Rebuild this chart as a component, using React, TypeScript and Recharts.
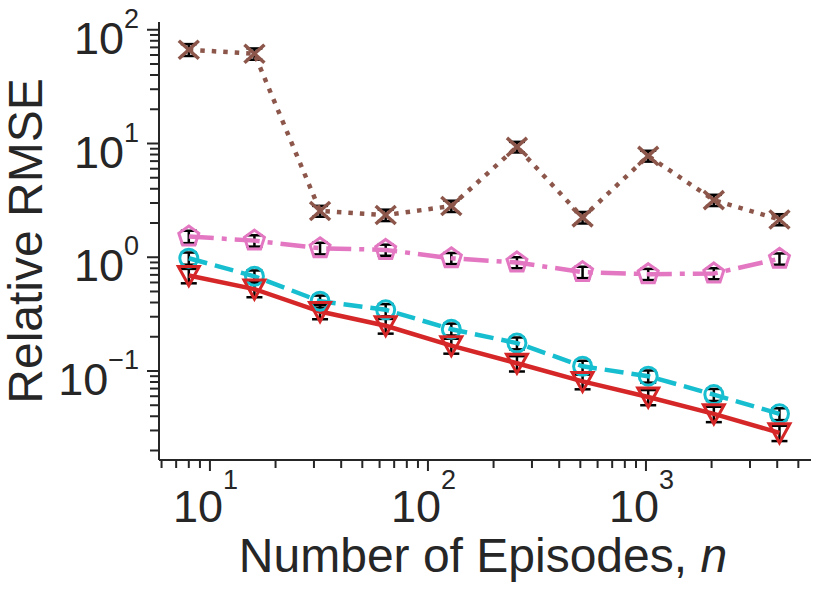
import { ComposedChart, ErrorBar, Label, Line, XAxis, YAxis } from "recharts";

const INK = "#262626";
const FONT = "'Liberation Sans', Arial, Helvetica, sans-serif";

// number of episodes
const episodes = [8, 16, 32, 64, 128, 256, 512, 1024, 2048, 4096];

// relative RMSE per estimator
const brown = [66.8, 61.5, 2.55, 2.35, 2.82, 9.34, 2.24, 7.78, 3.18, 2.15];
const brownErr = [8, 7, 0.28, 0.27, 0.32, 1.0, 0.26, 0.85, 0.36, 0.24];
const pink = [1.52, 1.4, 1.2, 1.16, 0.98, 0.9, 0.74, 0.71, 0.72, 0.97];
const pinkErr = [0.19, 0.16, 0.14, 0.13, 0.11, 0.1, 0.085, 0.08, 0.08, 0.11];
const cyan = [0.98, 0.68, 0.41, 0.345, 0.233, 0.176, 0.11, 0.09, 0.062, 0.042];
const cyanErr = [0.12, 0.085, 0.05, 0.042, 0.028, 0.021, 0.013, 0.011, 0.0075, 0.005];
const red = [0.69, 0.525, 0.333, 0.25, 0.167, 0.117, 0.081, 0.059, 0.042, 0.0286];
const redErr = [0.1, 0.08, 0.048, 0.037, 0.025, 0.018, 0.012, 0.009, 0.0065, 0.0044];

// tick positions
const xMajor = [10, 100, 1000];
const yMajor = [0.1, 1, 10, 100];
const steps = [2, 3, 4, 5, 6, 7, 8, 9];
const xMinor = [1, 10, 100, 1000]
  .flatMap((d) => steps.map((s) => s * d))
  .filter((v) => v > 5.84 && v < 5715);
const yMinor = [0.01, 0.1, 1, 10]
  .flatMap((d) => steps.map((s) => s * d))
  .filter((v) => v > 0.0165 && v < 117);
const xTicks = [...xMajor, ...xMinor].sort((a, b) => a - b);
const yTicks = [...yMajor, ...yMinor].sort((a, b) => a - b);

const rows = episodes.map((n, i) => ({
  n,
  brown: brown[i],
  brownErr: brownErr[i],
  pink: pink[i],
  pinkErr: pinkErr[i],
  cyan: cyan[i],
  cyanErr: cyanErr[i],
  red: red[i],
  redErr: redErr[i],
}));

function powerOf(v: number) {
  const e = Math.round(Math.log10(v));
  return { e, major: Math.abs(Math.log10(v) - e) < 1e-9 };
}

function expText(e: number) {
  return e < 0 ? `\u2212${-e}` : `${e}`;
}

function XTick(props: any) {
  const { x, y, payload } = props;
  const { e, major } = powerOf(payload.value);
  return (
    <g>
      <line x1={x} x2={x} y1={y} y2={y + (major ? 11 : 8)} stroke={INK} strokeWidth={2} />
      {major && (
        <text x={x - 37} y={y + 62} fontSize={45} fill={INK} fontFamily={FONT}>
          10
          <tspan dy={-33} fontSize={27}>
            {expText(e)}
          </tspan>
        </text>
      )}
    </g>
  );
}

function YTick(props: any) {
  const { x, y, payload } = props;
  const { e, major } = powerOf(payload.value);
  return (
    <g>
      <line x1={x - (major ? 12 : 9)} x2={x} y1={y} y2={y} stroke={INK} strokeWidth={2} />
      {major && (
        <text x={x - 20} y={y + 24} textAnchor="end" fontSize={45} fill={INK} fontFamily={FONT}>
          10
          <tspan dy={-26} fontSize={27}>
            {expText(e)}
          </tspan>
        </text>
      )}
    </g>
  );
}

function Marker({ cx, cy, kind, color }: { cx: number; cy: number; kind: string; color: string }) {
  const common = { fill: "none", stroke: color, strokeWidth: 3 };
  if (kind === "x") {
    return (
      <g stroke={color} strokeWidth={3.5}>
        <line x1={cx - 10} y1={cy - 9} x2={cx + 10} y2={cy + 9} />
        <line x1={cx - 10} y1={cy + 9} x2={cx + 10} y2={cy - 9} />
      </g>
    );
  }
  if (kind === "pentagon") {
    const pts = [0, 1, 2, 3, 4]
      .map((k) => {
        const a = ((-90 + 72 * k) * Math.PI) / 180;
        return `${cx + 10.5 * Math.cos(a)},${cy + 10.5 * Math.sin(a)}`;
      })
      .join(" ");
    return <polygon points={pts} {...common} />;
  }
  if (kind === "circle") {
    return <circle cx={cx} cy={cy} r={9} {...common} />;
  }
  return (
    <polygon
      points={`${cx - 10.5},${cy - 9} ${cx + 10.5},${cy - 9} ${cx},${cy + 10}`}
      {...common}
      strokeLinejoin="miter"
    />
  );
}

function dotFor(kind: string, color: string) {
  return (p: any) => (
    <g key={`${kind}-${p.index}`}>
      <Marker cx={p.cx} cy={p.cy} kind={kind} color={color} />
    </g>
  );
}

function XTitle() {
  return (
    <text x={483} y={572} textAnchor="middle" fontSize={48} fill={INK} fontFamily={FONT}>
      Number of Episodes, <tspan fontStyle="italic">n</tspan>
    </text>
  );
}

function YTitle() {
  return (
    <text
      x={42}
      y={241}
      transform="rotate(-90 42 241)"
      textAnchor="middle"
      fontSize={48}
      fill={INK}
      fontFamily={FONT}
    >
      Relative RMSE
    </text>
  );
}

const series = [
  { key: "brown", color: "#8c564b", dash: "4.5 7", kind: "x" },
  { key: "pink", color: "#e377c2", dash: "25 8 5 8", kind: "pentagon" },
  { key: "cyan", color: "#17becf", dash: "19 8", kind: "circle" },
  { key: "red", color: "#d62728", dash: undefined, kind: "triangle" },
];

export default function App() {
  return (
    <div style={{ width: 830, height: 590, background: "#fff" }}>
      <style>{"body{margin:0}"}</style>
      <ComposedChart
        width={830}
        height={590}
        data={rows}
        margin={{ top: 22, right: 19, bottom: 0, left: 0 }}
      >
        <XAxis
          type="number"
          dataKey="n"
          scale="log"
          domain={[5.84, 5715]}
          allowDataOverflow
          ticks={xTicks}
          interval={0}
          tick={XTick}
          tickLine={false}
          tickSize={0}
          tickMargin={0}
          axisLine={{ stroke: INK, strokeWidth: 2 }}
          height={130}
        >
          <Label content={XTitle} />
        </XAxis>
        <YAxis
          type="number"
          scale="log"
          domain={[0.0165, 117]}
          allowDataOverflow
          ticks={yTicks}
          interval={0}
          tick={YTick}
          tickLine={false}
          tickSize={0}
          tickMargin={0}
          axisLine={{ stroke: INK, strokeWidth: 2 }}
          width={159}
        >
          <Label content={YTitle} />
        </YAxis>
        {series.map((s) => (
          <Line
            key={s.key}
            dataKey={s.key}
            type="linear"
            stroke={s.color}
            strokeWidth={4.5}
            strokeDasharray={s.dash}
            dot={dotFor(s.kind, s.color)}
            activeDot={false}
            isAnimationActive={false}
          >
            <ErrorBar
              dataKey={`${s.key}Err`}
              direction="y"
              width={8}
              stroke="#000"
              strokeWidth={2.5}
              isAnimationActive={false}
            />
          </Line>
        ))}
      </ComposedChart>
    </div>
  );
}
